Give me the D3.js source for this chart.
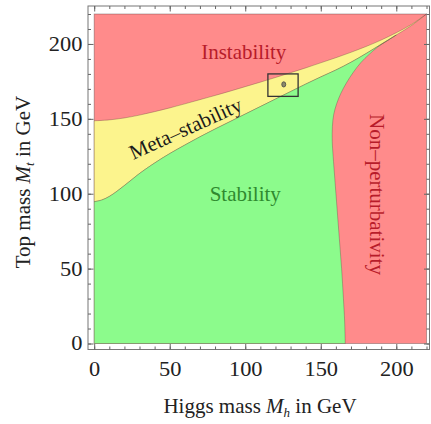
<!DOCTYPE html>
<html><head><meta charset="utf-8">
<script src="https://cdn.jsdelivr.net/npm/d3@7"></script>
<style>body{margin:0;background:#fff}svg{display:block}
svg text{font-family:"Liberation Serif","Times New Roman",Times,"DejaVu Serif",serif;}
</style>
</head><body><svg id="c" width="431" height="424"></svg>
<script>
// ---- data ----
const xDomain = [0, 220];
const yDomain = [0, 220];
const tickLabels = [0, 50, 100, 150, 200];
const minorTicks = [0,10,20,30,40,50,60,70,80,90,100,110,120,130,140,150,160,170,180,190,200,210,220];

// instability / meta-stability boundary
const upperMh = [0,10,20,30,40,50,60,70,80,90,100,110,120,130,140,150,160,170,180,190,200,210,220];
const upperMt = [148.7,149.3,150.6,152.5,154.8,157.3,160,162.8,165.6,168.5,171.5,174.5,177.6,180.8,184,187.4,190.8,194.4,198.3,202.6,207.5,213,220];
// meta-stability / stability boundary
const lowerMh = [0,5,10,15,20,25,30,40,50,60,70,80,90,100,110,120,130,140,150,160,170,180,190,200,210,220];
const lowerMt = [94.7,95.8,98.2,101.6,105.5,109.5,113.5,120.5,126.8,132.5,138,143.2,148.2,153.2,158.2,163.2,168.2,173.2,178,182.6,187.8,193.6,199.8,206,212.3,220];
// stability / non-perturbativity boundary (bottom to top)
const nonPertMh = [166.2,165.8,165,163.8,162.3,160.8,159.3,158.2,157.6,157.7,158.6,160.5,163.3,167,171.5,176.5,182,188,194,200];
const nonPertMt = [0,15,30,50,70,90,110,125,135,145,153,160,167,174,181,187.5,193,198.2,202.1,206];

const boxMh = [115, 135];
const boxMt = [165, 180];
const pointMh = [125.5];
const pointMt = [173];

const regionLabels = ["Instability", "Meta\u2013stability", "Stability", "Non\u2013perturbativity"];
const labelMh = [99, 60.5, 100, 187.3];
const labelMt = [194.5, 143.5, 99.5, 99.5];
const labelAngle = [0, -24.5, 0, 90];
const labelColor = ["#b81c2a", "#1a1a1a", "#2f8a2f", "#b81c2a"];

// ---- drawing ----
const svg = d3.select("#c");
svg.append("rect").attr("width",431).attr("height",424).attr("fill","#fff");

const x = d3.scaleLinear().domain(xDomain).range([94.2, 426.5]);
const y = d3.scaleLinear().domain(yDomain).range([343.5, 14]);

const frame = {l: 88, r: 429.5, t: 6, b: 349.5};

const pts = (xs, ys) => xs.map((v,i)=>[x(v), y(ys[i])]);
const curve = d3.line().curve(d3.curveCatmullRom.alpha(0.5));
const joinPaths = (...parts) => parts.map((p,i)=> i===0 ? p : p.replace(/^M/,"L")).join("") + "Z";

const upperP = pts(upperMh, upperMt);
const lowerP = pts(lowerMh, lowerMt);
const npP = pts(nonPertMh, nonPertMt);

const RED = "#ff8b8b", YEL = "#fcf48d", GRN = "#8cfb8c";
const edge = "rgba(60,40,40,0.35)";

// red background (instability / non-perturbativity)
svg.append("rect")
  .attr("x", x(xDomain[0])).attr("y", y(yDomain[1]))
  .attr("width", x(xDomain[1]) - x(xDomain[0]))
  .attr("height", y(yDomain[0]) - y(yDomain[1]))
  .attr("fill", RED).attr("stroke", edge).attr("stroke-width", 1);

// yellow band
const yelPath = joinPaths(curve(upperP), curve(lowerP.slice().reverse()));
svg.append("path").attr("d", yelPath).attr("fill", YEL).attr("stroke", edge).attr("stroke-width", 0.8);

// green region
const lowerUpTo = lowerP.filter((p,i)=> lowerMh[i] <= nonPertMh[nonPertMh.length-1]);
const greenPath = joinPaths(
  curve([[x(0), y(0)], [x(0), y(0)]]),
  curve(lowerUpTo),
  curve(npP.slice().reverse())
);
svg.append("path").attr("d", greenPath).attr("fill", GRN).attr("stroke", edge).attr("stroke-width", 0.8);

// box & point
svg.append("rect")
  .attr("x", x(boxMh[0])).attr("y", y(boxMt[1]))
  .attr("width", x(boxMh[1]) - x(boxMh[0]))
  .attr("height", y(boxMt[0]) - y(boxMt[1]))
  .attr("fill", "none").attr("stroke", "#333").attr("stroke-width", 1.3);
svg.selectAll("ellipse.pt").data(pointMh).join("ellipse")
  .attr("cx", (d,i)=>x(d)).attr("cy",(d,i)=>y(pointMt[i]))
  .attr("rx", 2).attr("ry", 2.6)
  .attr("fill", "#8a8a6a").attr("stroke", "#444").attr("stroke-width", 0.8);

// region labels
svg.selectAll("text.reg").data(regionLabels).join("text")
  .attr("class","reg")
  .attr("transform", (d,i)=>`translate(${x(labelMh[i])},${y(labelMt[i])}) rotate(${labelAngle[i]})`)
  .attr("text-anchor","middle").attr("dominant-baseline","central")
  .attr("font-size", 21)
  .attr("fill",(d,i)=>labelColor[i])
  .text(d=>d);

// frame
svg.append("rect")
  .attr("x", frame.l).attr("y", frame.t)
  .attr("width", frame.r - frame.l).attr("height", frame.b - frame.t)
  .attr("fill","none").attr("stroke","#777").attr("stroke-width",1);

const tickColor = "#666";
function styleAxis(g){
  g.select(".domain").remove();
  g.selectAll("line").attr("stroke", tickColor);
}
// minor ticks
svg.append("g").attr("transform",`translate(0,${frame.b})`)
  .call(d3.axisBottom(x).tickValues(minorTicks).tickSizeInner(-3).tickSizeOuter(0).tickFormat("")).call(styleAxis);
svg.append("g").attr("transform",`translate(0,${frame.t})`)
  .call(d3.axisTop(x).tickValues(minorTicks).tickSizeInner(-3).tickSizeOuter(0).tickFormat("")).call(styleAxis);
svg.append("g").attr("transform",`translate(${frame.l},0)`)
  .call(d3.axisLeft(y).tickValues(minorTicks).tickSizeInner(-3).tickSizeOuter(0).tickFormat("")).call(styleAxis);
svg.append("g").attr("transform",`translate(${frame.r},0)`)
  .call(d3.axisRight(y).tickValues(minorTicks).tickSizeInner(-3).tickSizeOuter(0).tickFormat("")).call(styleAxis);
// major ticks with labels
const xa = svg.append("g").attr("transform",`translate(0,${frame.b})`)
  .call(d3.axisBottom(x).tickValues(tickLabels).tickSizeInner(-5.5).tickSizeOuter(0).tickPadding(12)).call(styleAxis);
const ya = svg.append("g").attr("transform",`translate(${frame.l},0)`)
  .call(d3.axisLeft(y).tickValues(tickLabels).tickSizeInner(-5.5).tickSizeOuter(0).tickPadding(5)).call(styleAxis);
svg.append("g").attr("transform",`translate(0,${frame.t})`)
  .call(d3.axisTop(x).tickValues(tickLabels).tickSizeInner(-5.5).tickSizeOuter(0).tickFormat("")).call(styleAxis);
svg.append("g").attr("transform",`translate(${frame.r},0)`)
  .call(d3.axisRight(y).tickValues(tickLabels).tickSizeInner(-5.5).tickSizeOuter(0).tickFormat("")).call(styleAxis);
[xa, ya].forEach(g => g.attr("font-family", null).selectAll("text")
  .attr("font-size",20).attr("fill","#222"));
xa.selectAll("text").attr("transform","scale(1.12,1)");
ya.selectAll("text").attr("transform","scale(1.12,1)");

// axis titles
const xt = svg.append("text")
  .attr("x", 260).attr("y", 413)
  .attr("text-anchor","middle")
  .attr("font-size",21).attr("fill","#222");
xt.append("tspan").text("Higgs mass ");
xt.append("tspan").attr("font-style","italic").text("M");
xt.append("tspan").attr("font-style","italic").attr("font-size",13).attr("dy",4).text("h");
xt.append("tspan").attr("dy",-4).text(" in GeV");

const yt = svg.append("text")
  .attr("transform","translate(30,182) rotate(-90)")
  .attr("text-anchor","middle")
  .attr("font-size",21).attr("fill","#222");
yt.append("tspan").text("Top mass ");
yt.append("tspan").attr("font-style","italic").text("M");
yt.append("tspan").attr("font-style","italic").attr("font-size",13).attr("dy",4).text("t");
yt.append("tspan").attr("dy",-4).text(" in GeV");
</script></body></html>
